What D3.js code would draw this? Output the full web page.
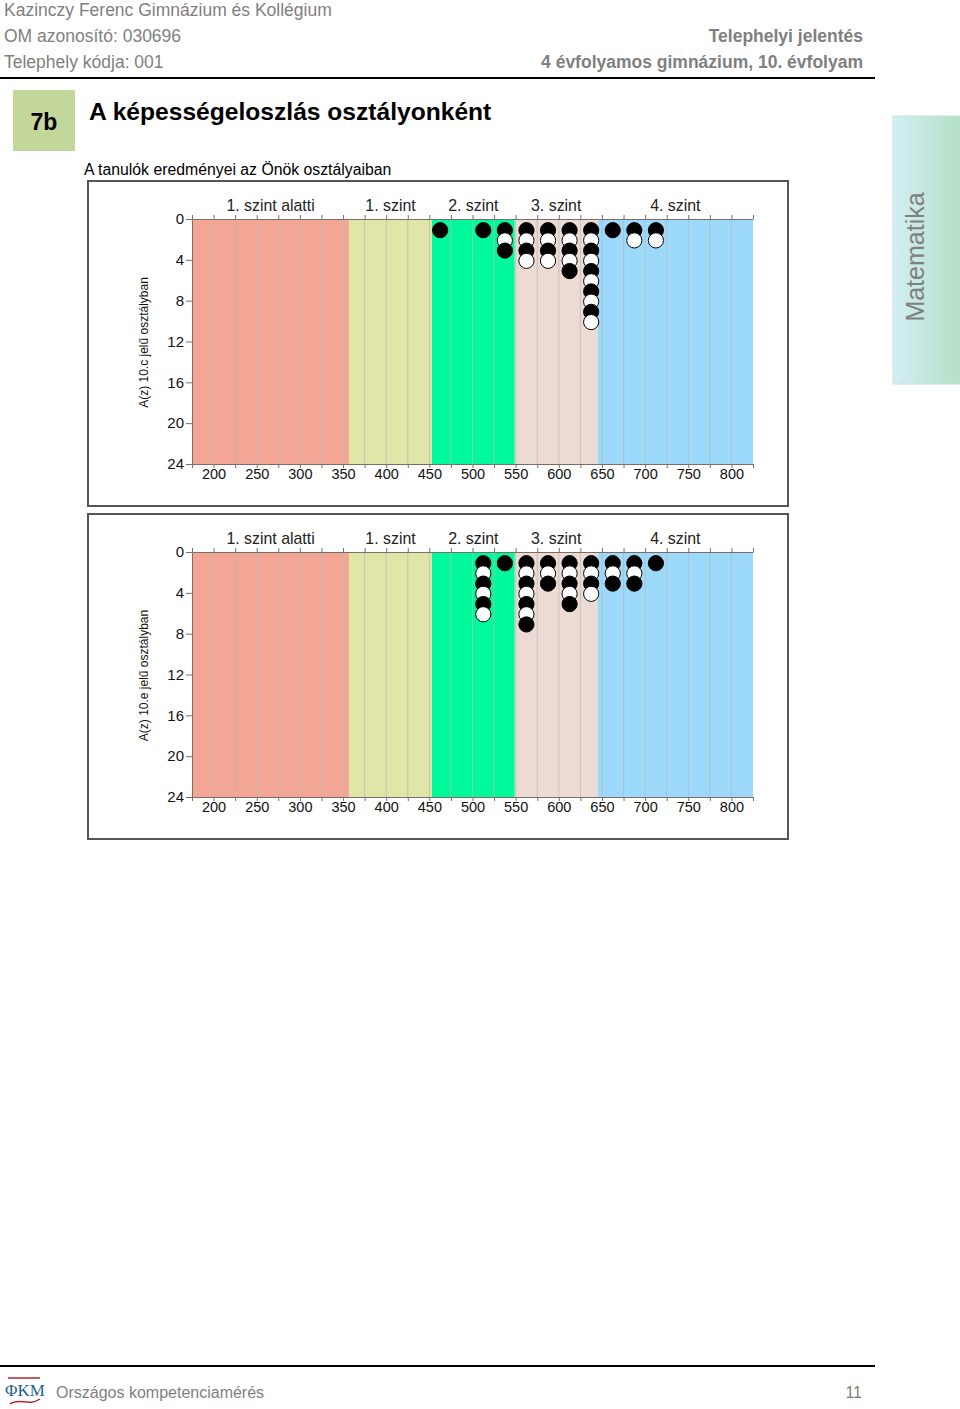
<!DOCTYPE html>
<html><head><meta charset="utf-8">
<script src="https://cdn.jsdelivr.net/npm/d3@7"></script>
<style>
body{margin:0;background:#fff;}
svg{display:block;font-family:"Liberation Sans",Arial,sans-serif;}
</style></head>
<body>
<svg id="c" width="960" height="1409"></svg>
<script>
// ---- data ----
const levelNames = ["1. szint alatti","1. szint","2. szint","3. szint","4. szint"];
const levelBounds = [175, 357, 453, 549, 645, 825];
const levelColors = ["#f3a693","#e1e5a7","#00f99a","#ecdbd4","#9dd9fa"];
const xTicks = [200,250,300,350,400,450,500,550,600,650,700,750,800];
const yTicks = [0,4,8,12,16,20,24];
const binCenters = [462.5,487.5,512.5,537.5,562.5,587.5,612.5,637.5,662.5,687.5,712.5];
const counts10c = [1,0,1,3,4,4,5,10,1,2,2];
const counts10e = [0,0,6,1,7,3,5,4,3,3,1];
const classLabels = ["A(z) 10.c jelű osztályban","A(z) 10.e jelű osztályban"];

const svg = d3.select("#c");
const gray = "#7f7f7f";

// ---- header ----
const hdr = [["Kazinczy Ferenc Gimnázium és Kollégium",16],["OM azonosító: 030696",42],["Telephely kódja: 001",68]];
hdr.forEach(([t,y])=>svg.append("text").attr("x",4).attr("y",y).attr("font-size",17.5).attr("fill",gray).text(t));
svg.append("text").attr("x",863).attr("y",42).attr("text-anchor","end").attr("font-size",17.5).attr("font-weight","bold").attr("fill",gray).text("Telephelyi jelentés");
svg.append("text").attr("x",863).attr("y",68).attr("text-anchor","end").attr("font-size",17.5).attr("font-weight","bold").attr("fill",gray).text("4 évfolyamos gimnázium, 10. évfolyam");
svg.append("line").attr("x1",0).attr("x2",875).attr("y1",78).attr("y2",78).attr("stroke","#000").attr("stroke-width",2);

// section box
svg.append("rect").attr("x",13).attr("y",90).attr("width",62).attr("height",61).attr("fill","#c4d79b");
svg.append("text").attr("x",44).attr("y",130).attr("text-anchor","middle").attr("font-size",23).attr("font-weight","bold").text("7b");
svg.append("text").attr("x",89).attr("y",120).attr("font-size",24.6).attr("font-weight","bold").text("A képességeloszlás osztályonként");
svg.append("text").attr("x",84).attr("y",175).attr("font-size",15.8).text("A tanulók eredményei az Önök osztályaiban");

// side tab
const defs = svg.append("defs");
const lg = defs.append("linearGradient").attr("id","tab").attr("x1","0").attr("x2","1").attr("y1","0").attr("y2","0");
lg.append("stop").attr("offset","0").attr("stop-color","#d3eef6");
lg.append("stop").attr("offset","1").attr("stop-color","#b3e0c4");
svg.append("rect").attr("x",893).attr("y",116).attr("width",67).attr("height",268).attr("fill","url(#tab)").attr("stroke","#c8e3d6");
svg.append("text").attr("transform","translate(924,257) rotate(-90)").attr("text-anchor","middle").attr("font-size",25).attr("fill","#808080").text("Matematika");

// ---- charts ----
const x = d3.scaleLinear().domain([175,825]).range([192,753]);
const y = d3.scaleLinear().domain([0,24]).range([219,464]);
const minorTicks = d3.range(175,826,25);

function chart(offset, counts, label){
  const g = svg.append("g").attr("transform",`translate(0,${offset})`);
  g.append("rect").attr("x",88).attr("y",181).attr("width",700).attr("height",325).attr("fill","#fff").attr("stroke","#555").attr("stroke-width",2);
  // bands
  levelNames.forEach((n,i)=>{
    g.append("rect").attr("x",x(levelBounds[i])).attr("y",y(0))
      .attr("width",x(levelBounds[i+1])-x(levelBounds[i])).attr("height",y(24)-y(0)).attr("fill",levelColors[i]);
    g.append("text").attr("x",(x(levelBounds[i])+x(levelBounds[i+1]))/2).attr("y",211)
      .attr("text-anchor","middle").attr("font-size",15.9).attr("fill","#222").text(n);
  });
  // gridlines
  g.selectAll(".gl").data(minorTicks.slice(1,-1)).join("line")
    .attr("x1",d=>x(d)).attr("x2",d=>x(d)).attr("y1",y(0)).attr("y2",y(24))
    .attr("stroke","#b8b8b8").attr("stroke-opacity",0.7).attr("stroke-width",1);
  // axes
  const ax = (sel)=>{sel.select(".domain").attr("stroke","#7a6e66");sel.selectAll(".tick line").attr("stroke","#7a6e66");};
  g.append("g").attr("transform",`translate(0,${y(0)})`)
    .call(d3.axisTop(x).tickValues(minorTicks).tickSize(4).tickSizeOuter(0).tickFormat("")).call(ax);
  const bx = g.append("g").attr("transform",`translate(0,${y(24)})`)
    .call(d3.axisBottom(x).tickValues(minorTicks).tickSize(4).tickSizeOuter(0)
      .tickFormat(d=>xTicks.includes(d)?d:"")).call(ax);
  bx.selectAll(".tick text").attr("font-size",14.5).attr("fill","#111").attr("font-family","Liberation Sans, Arial, sans-serif").attr("y",5).attr("dy","0.71em");
  const ly = g.append("g").attr("transform",`translate(${x(175)},0)`)
    .call(d3.axisLeft(y).tickValues(yTicks).tickSize(6).tickSizeOuter(0)).call(ax);
  ly.selectAll(".tick text").attr("font-size",15).attr("fill","#111").attr("font-family","Liberation Sans, Arial, sans-serif").attr("x",-8);
  // y title
  g.append("text").attr("transform",`translate(148,${(y(6)+y(18))/2+1}) rotate(-90)`).attr("text-anchor","middle")
    .attr("font-size",12).attr("fill","#111").text(label);
  // dots
  const dots = [];
  binCenters.forEach((c,i)=>{ for(let k=1;k<=counts[i];k++) dots.push({c,k}); });
  g.selectAll(".dot").data(dots).join("circle")
    .attr("cx",d=>x(d.c)).attr("cy",d=>y(d.k)+1).attr("r",7.6)
    .attr("fill",d=>d.k%2===1?"#000":"#fff").attr("stroke","#000").attr("stroke-width",1);
}
chart(0, counts10c, classLabels[0]);
chart(333, counts10e, classLabels[1]);

// ---- footer ----
svg.append("line").attr("x1",0).attr("x2",875).attr("y1",1366).attr("y2",1366).attr("stroke","#000").attr("stroke-width",2);
svg.append("text").attr("x",5).attr("y",1396).attr("font-size",17).attr("font-family","Liberation Serif, serif").attr("fill","#1f5f8b").text("ΦKM");
svg.append("path").attr("d","M8,1378 L40,1378 M10,1404 C20,1397 28,1407 40,1399").attr("stroke","#b3282d").attr("fill","none").attr("stroke-width",1.5);
svg.append("text").attr("x",56).attr("y",1398).attr("font-size",16).attr("fill",gray).text("Országos kompetenciamérés");
svg.append("text").attr("x",862).attr("y",1398).attr("text-anchor","end").attr("font-size",16).attr("fill",gray).text("11");
</script>
</body></html>
